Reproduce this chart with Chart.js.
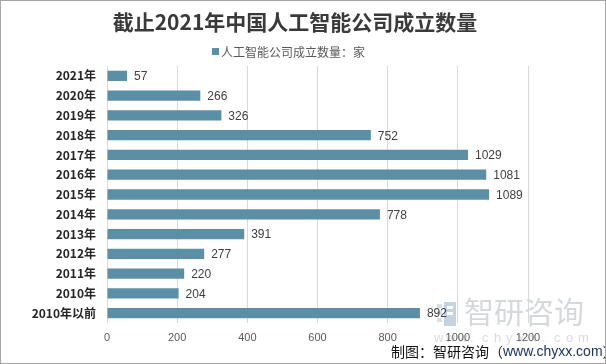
<!DOCTYPE html>
<html><head><meta charset="utf-8">
<script src="https://cdn.jsdelivr.net/npm/chart.js@4/dist/chart.umd.min.js"></script>
<style>html,body{margin:0;padding:0;background:#fff}#wrap{width:606px;height:364px;position:relative}</style>
</head><body><div id="wrap"><canvas id="c" width="606" height="364"></canvas></div>
<script>
const categories = ['2021年','2020年','2019年','2018年','2017年','2016年','2015年','2014年','2013年','2012年','2011年','2010年','2010年以前'];
const values = [57,266,326,752,1029,1081,1089,778,391,277,220,204,892];
const seriesName = '人工智能公司成立数量：家';
const titleText = '截止2021年中国人工智能公司成立数量';
const sourceText = ['制图：智研咨询（','www.chyxx.com','）'];
const xTicks = [0,200,400,600,800,1000,1200];

const CJK = '"Noto Sans CJK SC", "Microsoft YaHei", sans-serif';
const barColor = '#5b8fa6';

const deco = {
  id:'deco',
  beforeDraw(chart){
    const ctx = chart.ctx;
    ctx.save();
    ctx.fillStyle = '#fff';
    ctx.fillRect(0,0,chart.width,chart.height);
    // watermark
    ctx.fillStyle = '#d5e0ea';
    ctx.fillRect(437,304,5,4); ctx.fillRect(437,311,5,4); ctx.fillRect(437,318,5,4);
    ctx.fillStyle = '#c3d3e2';
    ctx.fillRect(444,302,12,24);
    ctx.fillStyle = '#fff';
    ctx.fillRect(447,306,6,3); ctx.fillRect(447,312,6,3);
    ctx.fillStyle = '#d6d9dc';
    ctx.font = '30px ' + CJK;
    ctx.textBaseline = 'middle';
    ctx.textAlign = 'left';
    ctx.fillText('智研咨询', 464, 312);
    ctx.font = '13px "Liberation Sans", Arial, sans-serif';
    ctx.fillStyle = '#dadcde';
    const w = 'www.chyxx.com'.split('');
    let x = 434;
    w.forEach(ch=>{ctx.fillText(ch,x,338); x += 12;});
    ctx.restore();
  },
  afterDraw(chart){
    const ctx = chart.ctx;
    ctx.save();
    // title
    ctx.fillStyle = '#3a3a3a';
    ctx.font = 'bold 21px ' + CJK;
    ctx.textAlign = 'center';
    ctx.textBaseline = 'middle';
    ctx.fillText(titleText, 295, 22);
    // legend
    ctx.font = '12px ' + CJK;
    ctx.textAlign = 'left';
    ctx.fillStyle = barColor;
    ctx.fillRect(212,48,7,7);
    ctx.fillStyle = '#595959';
    ctx.fillText(seriesName, 221, 52);
    // data labels
    const meta = chart.getDatasetMeta(0);
    ctx.font = '12px "Liberation Sans", Arial, sans-serif';
    ctx.fillStyle = '#404040';
    meta.data.forEach((bar,i)=>{
      ctx.fillText(String(values[i]), bar.x + 7, bar.y + 1);
    });
    // source
    ctx.font = '14px ' + CJK;
    ctx.textBaseline = 'middle';
    let x = 391;
    ctx.fillStyle = '#111';
    ctx.fillText(sourceText[0], x, 352); x += ctx.measureText(sourceText[0]).width;
    ctx.font = '14px "Liberation Sans", Arial, sans-serif';
    ctx.fillStyle = '#1a3560';
    ctx.fillText(sourceText[1], x, 352); x += ctx.measureText(sourceText[1]).width;
    ctx.font = '14px ' + CJK;
    ctx.fillStyle = '#111';
    ctx.fillText(sourceText[2], x, 352);
    // border
    ctx.strokeStyle = '#a6a6a6';
    ctx.lineWidth = 1;
    ctx.strokeRect(0.5,0.5,chart.width-1,chart.height-1);
    ctx.restore();
  }
};

new Chart(document.getElementById('c'), {
  type:'bar',
  data:{labels:categories, datasets:[{label:seriesName, data:values, backgroundColor:barColor, borderWidth:0, categoryPercentage:1, barPercentage:0.52}]},
  options:{
    indexAxis:'y', responsive:false, animation:false, devicePixelRatio:1,
    layout:{padding:{top:66,right:78,left:0,bottom:0}},
    plugins:{legend:{display:false}, title:{display:false}, tooltip:{enabled:false}},
    scales:{
      x:{min:0,max:1200,
        afterBuildTicks(s){ s.ticks = xTicks.map(v=>({value:v})); },
        afterFit(s){ s.height = 41; },
        grid:{color:'#d9d9d9', drawTicks:false},
        border:{display:false},
        ticks:{padding:8, color:'#595959', font:{size:11, family:'"Liberation Sans", Arial, sans-serif'},
          callback:(v)=>String(v)}
      },
      y:{
        afterFit(s){ s.width = 107; },
        grid:{display:false, drawTicks:false},
        border:{display:false},
        ticks:{padding:11, color:'#262626', font:{size:12, weight:'bold', family:CJK}}
      }
    }
  },
  plugins:[deco]
});
</script></body></html>
